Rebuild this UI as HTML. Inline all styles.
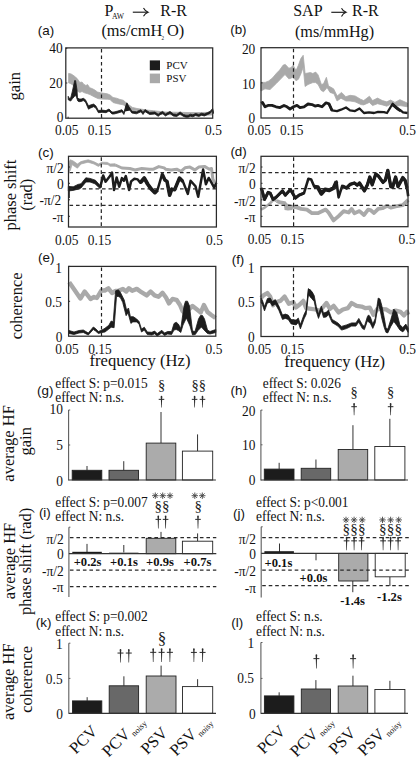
<!DOCTYPE html>
<html><head><meta charset="utf-8"><style>
html,body{margin:0;padding:0;background:#fff;overflow:hidden;width:417px;height:760px;}
svg{display:block;}
</style></head><body>
<svg width="417" height="760" viewBox="0 0 417 760">
<rect width="417" height="760" fill="#fff"/>
<text x="104.6" y="16.3" font-size="16" font-family='"Liberation Serif", serif' fill="#111">P</text>
<text x="111.9" y="18.8" font-size="7.7" font-family='"Liberation Serif", serif' fill="#111">AW</text>
<line x1="132.8" y1="12.2" x2="147.5" y2="12.2" stroke="#1a1a1a" stroke-width="1.15"/>
<path d="M143.5,8.1 Q144.9,11.0 148.1,12.2 Q144.9,13.399999999999999 143.5,16.299999999999997" fill="none" stroke="#1a1a1a" stroke-width="1.1"/>
<text x="160.3" y="16.3" font-size="16" font-family='"Liberation Serif", serif' fill="#111">R-R</text>
<text x="101.4" y="36.0" font-size="16.4" font-family='"Liberation Serif", serif' fill="#111" transform="translate(0 36.0) scale(1 1.06) translate(0 -36.0)">(ms/cmH</text>
<text x="161.6" y="39.8" font-size="5.2" font-family='"Liberation Serif", serif' fill="#111">2</text>
<text x="167.0" y="36.0" font-size="16.4" font-family='"Liberation Serif", serif' fill="#111" transform="translate(0 36.0) scale(1 1.06) translate(0 -36.0)">O)</text>
<text x="293.2" y="16.3" font-size="16" font-family='"Liberation Serif", serif' fill="#111">SAP</text>
<line x1="331.3" y1="12.3" x2="345.5" y2="12.3" stroke="#1a1a1a" stroke-width="1.15"/>
<path d="M341.5,8.200000000000001 Q342.90000000000003,11.100000000000001 346.1,12.3 Q342.90000000000003,13.5 341.5,16.4" fill="none" stroke="#1a1a1a" stroke-width="1.1"/>
<text x="352.0" y="16.3" font-size="16" font-family='"Liberation Serif", serif' fill="#111">R-R</text>
<text x="294.9" y="36.6" font-size="16.2" font-family='"Liberation Serif", serif' fill="#111" transform="translate(0 36.6) scale(1 1.06) translate(0 -36.6)">(ms/mmHg)</text>
<text x="37.8" y="35.199999999999996" font-size="13.4" text-anchor="start" font-family='"Liberation Sans", sans-serif' font-weight="normal" fill="#111"  >(a)</text>
<text x="230.20000000000002" y="34.199999999999996" font-size="13.4" text-anchor="start" font-family='"Liberation Sans", sans-serif' font-weight="normal" fill="#111"  >(b)</text>
<text x="38.099999999999994" y="156.9" font-size="13.4" text-anchor="start" font-family='"Liberation Sans", sans-serif' font-weight="normal" fill="#111"  >(c)</text>
<text x="230.4" y="156.4" font-size="13.4" text-anchor="start" font-family='"Liberation Sans", sans-serif' font-weight="normal" fill="#111"  >(d)</text>
<text x="38.099999999999994" y="262.2" font-size="13.4" text-anchor="start" font-family='"Liberation Sans", sans-serif' font-weight="normal" fill="#111"  >(e)</text>
<text x="231.70000000000002" y="263.9" font-size="13.4" text-anchor="start" font-family='"Liberation Sans", sans-serif' font-weight="normal" fill="#111"  >(f)</text>
<text x="37.0" y="395.2" font-size="13.4" text-anchor="start" font-family='"Liberation Sans", sans-serif' font-weight="normal" fill="#111"  >(g)</text>
<text x="230.60000000000002" y="395.2" font-size="13.4" text-anchor="start" font-family='"Liberation Sans", sans-serif' font-weight="normal" fill="#111"  >(h)</text>
<text x="38.9" y="517.1999999999999" font-size="13.4" text-anchor="start" font-family='"Liberation Sans", sans-serif' font-weight="normal" fill="#111"  >(i)</text>
<text x="233.0" y="517.9" font-size="13.4" text-anchor="start" font-family='"Liberation Sans", sans-serif' font-weight="normal" fill="#111"  >(j)</text>
<text x="35.8" y="627.1999999999999" font-size="13.4" text-anchor="start" font-family='"Liberation Sans", sans-serif' font-weight="normal" fill="#111"  >(k)</text>
<text x="231.3" y="627.1999999999999" font-size="13.4" text-anchor="start" font-family='"Liberation Sans", sans-serif' font-weight="normal" fill="#111"  >(l)</text>
<text x="19.7" y="86.2" font-size="16.5" text-anchor="middle" font-family='"Liberation Serif", serif' fill="#111" transform="rotate(-90 19.7 86.2)">gain</text>
<text x="16.0" y="195.1" font-size="16.5" text-anchor="middle" font-family='"Liberation Serif", serif' fill="#111" transform="rotate(-90 16.0 195.1)">phase shift</text>
<text x="32.3" y="194.7" font-size="16.5" text-anchor="middle" font-family='"Liberation Serif", serif' fill="#111" transform="rotate(-90 32.3 194.7)">(rad)</text>
<text x="22.5" y="305.9" font-size="16.5" text-anchor="middle" font-family='"Liberation Serif", serif' fill="#111" transform="rotate(-90 22.5 305.9)">coherence</text>
<text x="14.5" y="443.4" font-size="16.5" text-anchor="middle" font-family='"Liberation Serif", serif' fill="#111" transform="rotate(-90 14.5 443.4)">average HF</text>
<text x="31.2" y="441.3" font-size="16.5" text-anchor="middle" font-family='"Liberation Serif", serif' fill="#111" transform="rotate(-90 31.2 441.3)">gain</text>
<text x="15.0" y="561.0" font-size="16.5" text-anchor="middle" font-family='"Liberation Serif", serif' fill="#111" transform="rotate(-90 15.0 561.0)">average HF</text>
<text x="30.8" y="561.4" font-size="16.5" text-anchor="middle" font-family='"Liberation Serif", serif' fill="#111" transform="rotate(-90 30.8 561.4)">phase shift (rad)</text>
<text x="13.8" y="681.7" font-size="16.5" text-anchor="middle" font-family='"Liberation Serif", serif' fill="#111" transform="rotate(-90 13.8 681.7)">average HF</text>
<text x="32.2" y="679.4" font-size="16.5" text-anchor="middle" font-family='"Liberation Serif", serif' fill="#111" transform="rotate(-90 32.2 679.4)">coherence</text>
<polygon points="68.6,73.4 71.2,74.0 74.2,76.0 77.2,78.6 79.8,82.5 82.0,82.0 83.7,84.2 85.9,85.5 87.6,84.6 89.7,87.7 91.9,88.5 94.5,89.8 97.5,92.0 100.5,92.8 104.0,93.3 107.2,93.8 110.0,94.9 113.0,97.5 116.6,98.2 120.0,99.5 123.2,100.2 127.0,103.5 132.4,107.4 137.0,108.5 143.0,109.4 148.0,110.2 153.5,110.7 160.0,111.5 165.0,112.0 172.0,112.2 180.0,112.3 190.0,112.6 200.0,112.5 212.0,112.3 212.0,115.0 200.0,115.2 180.0,115.0 165.0,114.5 160.0,114.0 153.5,113.4 148.0,112.4 143.0,111.4 137.0,110.8 132.4,110.0 127.0,107.5 123.2,104.8 120.0,104.2 116.6,103.5 113.0,102.5 110.0,99.5 107.2,99.2 102.0,99.1 98.0,98.6 95.0,97.2 92.5,95.9 90.0,94.6 87.6,93.7 84.5,92.8 82.0,91.5 79.8,92.4 77.2,91.1 73.0,85.0 70.0,83.3 68.6,82.9" fill="#a9a9a9" stroke="#a9a9a9" stroke-width="0.8" stroke-linejoin="round"/>
<polygon points="68.2,96.3 69.5,98.5 70.7,98.0 72.2,92.0 74.7,80.5 75.6,80.7 77.0,90.0 77.5,97.6 79.0,98.9 81.1,99.1 83.3,98.3 85.4,99.7 88.5,105.8 90.6,104.9 93.6,104.1 95.8,105.8 98.4,110.5 102.0,110.1 106.0,110.6 109.0,109.0 112.0,112.0 114.0,112.0 117.9,111.0 121.9,109.7 123.9,112.4 126.5,103.6 129.8,107.9 131.8,111.0 136.4,111.7 141.0,109.7 143.0,112.4 145.0,109.5 149.6,112.4 154.9,112.0 158.2,114.2 160.0,112.8 162.7,111.4 165.4,113.9 168.0,112.5 170.0,111.4 173.4,114.0 176.8,114.4 180.1,111.9 183.5,114.5 186.0,115.2 188.2,115.2 190.5,114.2 192.9,114.8 195.6,113.5 198.9,114.4 201.6,113.2 204.3,113.9 207.7,112.5 210.3,111.2 212.6,108.5 213.4,111.5 213.4,113.5 212.6,110.6 210.3,113.2 207.7,114.5 204.3,116.0 201.6,115.2 198.9,116.5 195.6,115.6 192.9,116.8 190.5,116.3 188.2,117.2 186.0,117.2 183.5,116.5 180.1,114.0 176.8,116.5 173.4,116.1 170.0,113.5 168.0,114.5 165.4,116.0 162.7,113.5 160.0,114.8 158.2,116.3 154.9,114.0 149.6,114.5 145.0,111.5 143.0,114.5 141.0,111.8 136.4,113.8 131.8,113.0 129.8,110.0 126.5,105.7 123.9,114.5 121.9,111.8 117.9,113.0 114.0,114.0 112.0,114.0 109.0,111.0 106.0,112.7 102.0,112.3 98.4,112.7 95.8,108.0 93.6,106.7 90.6,108.0 88.5,109.2 85.4,101.9 83.3,100.6 81.1,101.5 79.0,101.7 77.8,101.0 76.5,97.4 75.5,95.1 74.5,96.4 72.5,98.6 70.7,101.0 69.5,100.6 68.2,99.7" fill="#1c1c1c" stroke="#1c1c1c" stroke-width="0.8" stroke-linejoin="round"/>
<polygon points="124.8,111.5 126.5,102.5 127.6,103 130.3,110.5" fill="#1c1c1c"/>
<rect x="65.8" y="47.9" width="146.89999999999998" height="70.30000000000001" fill="none" stroke="#2a2a2a" stroke-width="1.25"/>
<line x1="65.8" y1="48.3" x2="67.3" y2="48.3" stroke="#2a2a2a" stroke-width="1.0"/>
<line x1="65.8" y1="83.0" x2="67.3" y2="83.0" stroke="#2a2a2a" stroke-width="1.0"/>
<line x1="68.1" y1="118.2" x2="68.1" y2="116.7" stroke="#2a2a2a" stroke-width="1.0"/>
<line x1="101.7" y1="118.2" x2="101.7" y2="116.7" stroke="#2a2a2a" stroke-width="1.0"/>
<text x="62.7" y="53.0" font-size="13.4" text-anchor="end" font-family='"Liberation Serif", serif' font-weight="normal" fill="#111" transform="translate(0 53.0) scale(1 1.03) translate(0 -53.0)" >40</text>
<text x="62.7" y="88.0" font-size="13.4" text-anchor="end" font-family='"Liberation Serif", serif' font-weight="normal" fill="#111" transform="translate(0 88.0) scale(1 1.03) translate(0 -88.0)" >20</text>
<text x="63.4" y="122.4" font-size="13.4" text-anchor="end" font-family='"Liberation Serif", serif' font-weight="normal" fill="#111" transform="translate(0 122.4) scale(1 1.03) translate(0 -122.4)" >0</text>
<text x="66.7" y="135.2" font-size="13.4" text-anchor="middle" font-family='"Liberation Serif", serif' font-weight="normal" fill="#111" transform="translate(0 135.2) scale(1 1.03) translate(0 -135.2)" >0.05</text>
<text x="99.5" y="135.2" font-size="13.4" text-anchor="middle" font-family='"Liberation Serif", serif' font-weight="normal" fill="#111" transform="translate(0 135.2) scale(1 1.03) translate(0 -135.2)" >0.15</text>
<text x="213.5" y="135.2" font-size="13.4" text-anchor="middle" font-family='"Liberation Serif", serif' font-weight="normal" fill="#111" transform="translate(0 135.2) scale(1 1.03) translate(0 -135.2)" >0.5</text>
<rect x="149.8" y="60.4" width="10.2" height="9.9" fill="#1c1c1c"/>
<rect x="149.8" y="73.6" width="10.2" height="9.6" fill="#a9a9a9"/>
<text x="166.3" y="68.8" font-size="11" text-anchor="start" font-family='"Liberation Serif", serif' font-weight="normal" fill="#111" transform="translate(0 68.8) scale(1 1.03) translate(0 -68.8)" >PCV</text>
<text x="166.3" y="82.0" font-size="11" text-anchor="start" font-family='"Liberation Serif", serif' font-weight="normal" fill="#111" transform="translate(0 82.0) scale(1 1.03) translate(0 -82.0)" >PSV</text>
<polygon points="261.0,82.4 265.2,82.4 268.8,80.9 272.4,78.1 276.7,73.0 279.6,70.1 283.2,65.1 285.3,64.4 288.8,68.2 290.8,67.7 293.2,65.3 296.0,70.6 298.4,65.3 300.8,58.6 303.2,55.3 305.1,73.5 308.0,73.0 310.4,72.5 312.8,73.5 315.7,72.1 318.1,74.9 321.4,84.5 323.5,83.8 326.4,77.3 328.5,85.9 333.6,88.8 337.2,96.0 341.5,92.4 345.8,96.7 350.1,95.3 355.2,96.0 360.5,99.2 363.7,100.6 369.4,96.2 372.5,100.6 377.5,98.1 382.4,100.6 386.8,101.8 390.5,100.0 394.9,102.4 399.9,99.7 407.4,103.1 407.4,106.8 400.0,105.6 394.9,106.2 390.5,104.3 386.8,106.2 382.4,104.9 377.5,103.7 372.5,105.6 369.4,102.4 363.7,104.9 361.0,104.6 355.0,101.8 350.0,101.0 346.0,101.0 341.0,98.2 337.0,101.0 334.0,93.8 330.0,92.4 327.0,87.4 325.0,90.3 323.4,91.7 321.0,90.3 318.1,84.5 315.7,82.6 312.8,82.6 308.0,84.5 305.1,86.5 303.2,67.3 300.8,74.0 298.4,79.3 296.0,80.7 293.2,76.9 290.8,78.3 288.8,78.8 285.0,74.5 283.0,76.6 276.7,83.1 270.0,89.6 265.0,88.8 261.0,91.0" fill="#a9a9a9" stroke="#a9a9a9" stroke-width="0.8" stroke-linejoin="round"/>
<polyline points="261.0,103.2 262.5,102.5 265.0,106.8 268.0,105.4 272.0,105.4 276.0,106.8 280.0,107.6 284.0,105.4 287.0,106.8 290.0,109.0 293.5,106.8 297.0,105.4 300.0,107.6 304.0,106.8 308.0,104.0 312.0,104.6 315.0,106.1 318.0,105.4 322.0,106.8 326.0,102.8 329.0,103.9 332.0,110.4" fill="none" stroke="#1c1c1c" stroke-width="2.8" stroke-linejoin="round" stroke-linecap="butt" />
<polyline points="329.0,103.9 332.0,110.4 337.0,111.1 341.0,109.7 346.0,107.5 350.0,110.4 355.0,111.1 359.5,108.5 364.0,113.0 369.0,112.4 374.0,113.0 378.0,111.8 384.0,112.2 387.0,113.0 392.5,104.0 396.0,107.4 400.0,109.9 403.0,112.4 407.5,113.0" fill="none" stroke="#1c1c1c" stroke-width="2.3" stroke-linejoin="round" stroke-linecap="butt" />
<polygon points="391.6,106 392.4,102.6 393.6,103.2 398.5,107.6 401,110.1 400.2,112.2 397,110.2 393.5,107.3" fill="#1c1c1c"/>
<line x1="101.5" y1="48.9" x2="101.5" y2="118.2" stroke="#222" stroke-width="1.2" stroke-dasharray="3.6 2.9"/>
<rect x="261" y="47.7" width="147" height="70.3" fill="none" stroke="#2a2a2a" stroke-width="1.25"/>
<line x1="261" y1="47.7" x2="262.5" y2="47.7" stroke="#2a2a2a" stroke-width="1.0"/>
<line x1="261" y1="82.85" x2="262.5" y2="82.85" stroke="#2a2a2a" stroke-width="1.0"/>
<text x="255.3" y="54.2" font-size="13.4" text-anchor="end" font-family='"Liberation Serif", serif' font-weight="normal" fill="#111" transform="translate(0 54.2) scale(1 1.03) translate(0 -54.2)" >20</text>
<text x="255.3" y="89.0" font-size="13.4" text-anchor="end" font-family='"Liberation Serif", serif' font-weight="normal" fill="#111" transform="translate(0 89.0) scale(1 1.03) translate(0 -89.0)" >10</text>
<text x="255.3" y="122.6" font-size="13.4" text-anchor="end" font-family='"Liberation Serif", serif' font-weight="normal" fill="#111" transform="translate(0 122.6) scale(1 1.03) translate(0 -122.6)" >0</text>
<text x="259.2" y="135.2" font-size="13.4" text-anchor="middle" font-family='"Liberation Serif", serif' font-weight="normal" fill="#111" transform="translate(0 135.2) scale(1 1.03) translate(0 -135.2)" >0.05</text>
<text x="291.8" y="135.2" font-size="13.4" text-anchor="middle" font-family='"Liberation Serif", serif' font-weight="normal" fill="#111" transform="translate(0 135.2) scale(1 1.03) translate(0 -135.2)" >0.15</text>
<text x="407.5" y="135.2" font-size="13.4" text-anchor="middle" font-family='"Liberation Serif", serif' font-weight="normal" fill="#111" transform="translate(0 135.2) scale(1 1.03) translate(0 -135.2)" >0.5</text>
<polygon points="68.8,163.0 70.3,159.8 73.2,161.0 77.4,164.0 81.0,161.6 85.0,160.5 88.2,159.8 93.6,161.6 98.4,164.0 102.0,162.2 107.4,162.4 110.0,164.0 115.3,163.8 115.3,166.2 110.0,166.2 108.0,164.6 102.0,164.0 98.4,166.4 94.0,164.0 88.0,162.2 81.0,164.0 77.4,168.2 72.0,164.6 70.3,170.5 68.8,172.0" fill="#a9a9a9" stroke="#a9a9a9" stroke-width="0.8" stroke-linejoin="round"/>
<polyline points="115.3,165.0 121.9,168.0 129.8,168.5 135.1,170.0 141.7,168.5 149.6,169.2 153.5,169.2 158.8,166.6 164.1,167.9 165.6,169.2 171.1,169.9 176.7,169.2 180.9,171.3 185.0,167.8 189.9,167.1 194.8,169.9 198.9,167.1 204.5,166.4 209.4,169.2 211.5,168.5 212.9,179.3 214.9,182.8" fill="none" stroke="#a9a9a9" stroke-width="3.0" stroke-linejoin="round" stroke-linecap="butt" />
<polygon points="68.3,186.4 73.2,186.8 78.0,184.4 81.0,183.8 85.8,177.8 90.0,178.4 95.4,180.2 100.2,185.6 101.5,184.0 101.5,187.0 100.0,188.6 95.0,183.8 90.0,182.0 86.0,182.0 81.0,188.0 78.0,189.2 73.0,190.4 68.3,191.0" fill="#1c1c1c" stroke="#1c1c1c" stroke-width="0.8" stroke-linejoin="round"/>
<line x1="69.0" y1="186.5" x2="69.0" y2="198.0" stroke="#1c1c1c" stroke-width="1.6"/>
<polyline points="100.2,187.1 103.2,175.4 105.6,181.7 110.0,176.0 112.0,172.5 114.0,190.0 116.6,177.4 119.2,186.7 121.9,178.1 123.9,180.7 125.8,176.1 129.1,190.0 131.1,181.4 134.4,178.7 137.7,179.4 140.3,182.7 144.3,178.1 147.6,184.0 150.9,188.6 154.9,192.6 157.5,190.0 162.1,174.1 164.9,180.0 167.0,181.4 169.7,195.3 171.8,189.1 174.6,189.8 179.5,178.0 182.9,181.4 187.8,193.9 190.6,180.7 195.5,186.3 198.2,196.7 203.1,169.6 205.9,184.2 208.7,178.0 210.8,181.4 214.2,187.7 216.3,182.8" fill="none" stroke="#1c1c1c" stroke-width="2.5" stroke-linejoin="round" stroke-linecap="butt" />
<polyline points="140.3,182.7 144.3,178.1 147.6,184.0 150.9,188.6 154.9,192.6 157.5,190.0" fill="none" stroke="#1c1c1c" stroke-width="3.8" stroke-linejoin="round" stroke-linecap="butt" />
<polyline points="162.1,174.1 164.9,180.0 167.0,181.4 169.7,195.3 171.8,189.1 174.6,189.8 179.5,178.0 182.9,181.4" fill="none" stroke="#1c1c1c" stroke-width="3.5" stroke-linejoin="round" stroke-linecap="butt" />
<line x1="293.5" y1="48.7" x2="293.5" y2="118" stroke="#222" stroke-width="1.2" stroke-dasharray="3.6 2.9"/>
<line x1="69.5" y1="172.6" x2="216.4" y2="172.6" stroke="#2a2a2a" stroke-width="1.25" stroke-dasharray="3.6 2.9"/>
<line x1="69.5" y1="188.9" x2="216.4" y2="188.9" stroke="#2a2a2a" stroke-width="1.25" stroke-dasharray="3.6 2.9"/>
<line x1="69.5" y1="205.3" x2="216.4" y2="205.3" stroke="#2a2a2a" stroke-width="1.25" stroke-dasharray="3.6 2.9"/>
<line x1="101.3" y1="157.3" x2="101.3" y2="227.0" stroke="#222" stroke-width="1.2" stroke-dasharray="3.6 2.9"/>
<rect x="68.5" y="156.3" width="147.9" height="70.69999999999999" fill="none" stroke="#2a2a2a" stroke-width="1.25"/>
<line x1="68.5" y1="167.0" x2="70.0" y2="167.0" stroke="#2a2a2a" stroke-width="1.0"/>
<line x1="68.5" y1="183.3" x2="70.0" y2="183.3" stroke="#2a2a2a" stroke-width="1.0"/>
<line x1="68.5" y1="199.8" x2="70.0" y2="199.8" stroke="#2a2a2a" stroke-width="1.0"/>
<line x1="68.5" y1="216.3" x2="70.0" y2="216.3" stroke="#2a2a2a" stroke-width="1.0"/>
<text x="63.6" y="173.3" font-size="13.4" text-anchor="end" font-family='"Liberation Serif", serif' font-weight="normal" fill="#111" transform="translate(0 173.3) scale(1 1.03) translate(0 -173.3)" >π/2</text>
<text x="63.6" y="189.3" font-size="13.4" text-anchor="end" font-family='"Liberation Serif", serif' font-weight="normal" fill="#111" transform="translate(0 189.3) scale(1 1.03) translate(0 -189.3)" >0</text>
<text x="61.2" y="204.8" font-size="13.4" text-anchor="end" font-family='"Liberation Serif", serif' font-weight="normal" fill="#111" transform="translate(0 204.8) scale(1 1.03) translate(0 -204.8)" >-π/2</text>
<text x="63.6" y="222.3" font-size="13.4" text-anchor="end" font-family='"Liberation Serif", serif' font-weight="normal" fill="#111" transform="translate(0 222.3) scale(1 1.03) translate(0 -222.3)" >-π</text>
<text x="66.7" y="245.0" font-size="13.4" text-anchor="middle" font-family='"Liberation Serif", serif' font-weight="normal" fill="#111" transform="translate(0 245.0) scale(1 1.03) translate(0 -245.0)" >0.05</text>
<text x="99.5" y="245.0" font-size="13.4" text-anchor="middle" font-family='"Liberation Serif", serif' font-weight="normal" fill="#111" transform="translate(0 245.0) scale(1 1.03) translate(0 -245.0)" >0.15</text>
<text x="214.5" y="245.0" font-size="13.4" text-anchor="middle" font-family='"Liberation Serif", serif' font-weight="normal" fill="#111" transform="translate(0 245.0) scale(1 1.03) translate(0 -245.0)" >0.5</text>
<polyline points="261.0,209.6 263.8,208.2 269.5,203.8 273.8,199.5 276.7,201.0" fill="none" stroke="#a9a9a9" stroke-width="2.6" stroke-linejoin="round" stroke-linecap="butt" />
<polyline points="276.7,201.0 280.3,202.4 284.6,203.1 286.5,207.0 288.2,208.2 292.5,206.7 296.8,207.4 301.2,208.9 306.9,209.6 312.0,213.2 317.8,213.2 325.7,209.6 328.5,212.5 333.6,220.4 338.6,216.1 343.7,211.1 348.7,212.5 351.6,208.9 354.4,213.2 359.5,211.1 364.0,215.0 368.1,209.6 370.4,210.0 374.0,213.0 378.2,208.8 382.4,208.2 387.2,205.8 390.8,207.6 395.6,206.4 402.8,205.2 405.2,202.8 408.2,199.8" fill="none" stroke="#a9a9a9" stroke-width="3.8" stroke-linejoin="round" stroke-linecap="butt" />
<polygon points="284,202 287,203.5 292,205 292.5,210 288,210.5 284.5,210" fill="#a9a9a9"/>
<polyline points="261.0,188.0 262.0,190.2 264.5,199.5 268.1,192.3 270.2,193.1 273.1,199.5 276.7,196.7 282.5,190.9 285.3,195.2 290.4,189.5 292.5,193.1 295.4,198.1 299.0,195.2 304.0,193.1 308.4,178.7 311.2,179.4 314.2,186.6 317.8,187.3 321.4,193.8 325.0,189.5 329.3,190.2 333.6,188.0 336.5,181.5 338.6,197.4 342.2,185.9 346.5,188.0 350.1,184.4 354.4,183.0 357.3,185.1 359.5,183.0 364.4,190.8 367.4,184.8 369.8,177.0 372.2,184.8 375.8,174.0 378.2,175.8 383.0,182.4 385.4,180.0 387.8,170.4 390.8,186.6 392.6,187.2 395.6,177.0 398.0,186.6 402.8,177.6 405.2,180.6 407.0,187.8 408.2,196.2" fill="none" stroke="#1c1c1c" stroke-width="2.6" stroke-linejoin="round" stroke-linecap="butt" />
<polyline points="261.0,188.0 262.0,190.2 264.5,199.5 268.1,192.3 270.2,193.1 273.1,199.5 276.7,196.7 282.5,190.9 285.3,195.2 290.4,189.5 292.5,193.1 295.4,198.1 299.0,195.2 304.0,193.1" fill="none" stroke="#1c1c1c" stroke-width="3.0" stroke-linejoin="round" stroke-linecap="butt" />
<polyline points="314.2,186.6 317.8,187.3 321.4,193.8 325.0,189.5 329.3,190.2 333.6,188.0 336.5,181.5" fill="none" stroke="#1c1c1c" stroke-width="4.0" stroke-linejoin="round" stroke-linecap="butt" />
<polyline points="342.2,185.9 346.5,188.0 350.1,184.4 354.4,183.0 357.3,185.1 359.5,183.0 364.4,190.8 367.4,184.8 369.8,177.0 372.2,184.8 375.8,174.0 378.2,175.8 383.0,182.4 385.4,180.0 387.8,170.4 390.8,186.6 392.6,187.2 395.6,177.0 398.0,186.6 402.8,177.6 405.2,180.6 407.0,187.8" fill="none" stroke="#1c1c1c" stroke-width="3.3" stroke-linejoin="round" stroke-linecap="butt" />
<line x1="262" y1="172.5" x2="408" y2="172.5" stroke="#2a2a2a" stroke-width="1.25" stroke-dasharray="3.6 2.9"/>
<line x1="262" y1="188.7" x2="408" y2="188.7" stroke="#2a2a2a" stroke-width="1.25" stroke-dasharray="3.6 2.9"/>
<line x1="262" y1="205.3" x2="408" y2="205.3" stroke="#2a2a2a" stroke-width="1.25" stroke-dasharray="3.6 2.9"/>
<line x1="293.6" y1="157.3" x2="293.6" y2="226.7" stroke="#222" stroke-width="1.2" stroke-dasharray="3.6 2.9"/>
<rect x="261" y="156.3" width="147" height="70.39999999999998" fill="none" stroke="#2a2a2a" stroke-width="1.25"/>
<line x1="261" y1="167.0" x2="262.5" y2="167.0" stroke="#2a2a2a" stroke-width="1.0"/>
<line x1="261" y1="183.3" x2="262.5" y2="183.3" stroke="#2a2a2a" stroke-width="1.0"/>
<line x1="261" y1="199.8" x2="262.5" y2="199.8" stroke="#2a2a2a" stroke-width="1.0"/>
<line x1="261" y1="216.3" x2="262.5" y2="216.3" stroke="#2a2a2a" stroke-width="1.0"/>
<text x="255.6" y="173.3" font-size="13.4" text-anchor="end" font-family='"Liberation Serif", serif' font-weight="normal" fill="#111" transform="translate(0 173.3) scale(1 1.03) translate(0 -173.3)" >π/2</text>
<text x="255.6" y="189.3" font-size="13.4" text-anchor="end" font-family='"Liberation Serif", serif' font-weight="normal" fill="#111" transform="translate(0 189.3) scale(1 1.03) translate(0 -189.3)" >0</text>
<text x="255.6" y="205.7" font-size="13.4" text-anchor="end" font-family='"Liberation Serif", serif' font-weight="normal" fill="#111" transform="translate(0 205.7) scale(1 1.03) translate(0 -205.7)" >-π/2</text>
<text x="255.6" y="222.3" font-size="13.4" text-anchor="end" font-family='"Liberation Serif", serif' font-weight="normal" fill="#111" transform="translate(0 222.3) scale(1 1.03) translate(0 -222.3)" >-π</text>
<text x="259.6" y="244.0" font-size="13.4" text-anchor="middle" font-family='"Liberation Serif", serif' font-weight="normal" fill="#111" transform="translate(0 244.0) scale(1 1.03) translate(0 -244.0)" >0.05</text>
<text x="292.5" y="244.0" font-size="13.4" text-anchor="middle" font-family='"Liberation Serif", serif' font-weight="normal" fill="#111" transform="translate(0 244.0) scale(1 1.03) translate(0 -244.0)" >0.15</text>
<text x="407" y="244.0" font-size="13.4" text-anchor="middle" font-family='"Liberation Serif", serif' font-weight="normal" fill="#111" transform="translate(0 244.0) scale(1 1.03) translate(0 -244.0)" >0.5</text>
<polyline points="69.2,282.3 73.2,288.0 80.4,298.5 84.7,291.5 90.5,299.0 94.0,297.0 96.9,298.0 101.3,290.5 104.8,290.5 108.4,288.3 112.0,293.0 115.6,291.0 119.0,290.6 122.9,288.9 126.2,291.5 128.9,288.2 132.2,290.8 136.8,288.9 141.4,292.2 146.7,295.4 150.6,291.5 154.6,295.4 158.5,296.8 162.5,292.8 166.0,297.5 169.0,303.4 172.5,299.0 176.5,299.8 180.0,305.0 182.5,311.0 185.0,313.5 188.1,310.0 192.5,306.0 197.0,309.5 200.7,312.5 203.9,305.0 207.5,312.0 211.0,314.8 215.5,318.0" fill="none" stroke="#a9a9a9" stroke-width="4.4" stroke-linejoin="round" stroke-linecap="butt" />
<polygon points="69.0,330.5 74.0,332.0 79.0,330.5 83.3,330.0 88.3,333.0 93.3,327.0 95.5,328.5 98.4,331.5 102.0,330.0 105.0,328.2 108.8,325.3 111.2,321.0 113.2,321.9 115.6,290.8 118.4,289.8 120.3,292.2 124.2,299.9 126.6,310.0 128.5,308.0 130.4,316.7 133.3,316.7 136.7,319.0 139.1,321.5 141.5,329.1 144.3,327.2 147.3,332.0 151.9,332.3 154.6,331.0 157.2,333.6 161.8,330.3 164.5,333.0 167.6,331.5 171.6,331.5 174.0,323.5 176.2,322.2 178.3,324.0 180.8,328.5 184.0,306.0 185.5,301.2 187.5,301.2 189.5,306.0 192.5,331.0 195.0,331.5 198.5,319.0 200.5,315.5 202.5,315.5 204.5,319.0 207.5,330.0 210.0,331.5 215.8,329.5 215.8,332.5 210.0,334.0 207.5,333.5 205.0,331.0 201.4,327.0 198.0,330.5 195.3,334.5 192.5,335.0 190.0,326.0 186.4,318.0 183.0,325.0 180.8,332.5 178.3,330.5 176.2,329.5 174.0,330.0 171.6,334.5 167.6,334.0 164.5,335.6 161.8,333.0 157.2,336.0 154.6,333.8 151.9,335.0 147.3,334.5 144.3,330.1 141.5,332.0 139.1,324.3 136.7,321.9 132.8,321.9 130.9,323.4 128.0,312.8 126.1,315.7 122.7,302.3 120.3,297.5 118.4,296.5 116.5,296.5 114.1,327.7 111.2,327.2 108.8,329.1 105.0,332.0 102.0,332.5 98.4,333.5 95.5,331.0 93.3,329.5 88.3,335.0 83.3,332.5 79.0,333.0 74.0,334.5 69.0,333.5" fill="#1c1c1c" stroke="#1c1c1c" stroke-width="0.8" stroke-linejoin="round"/>
<line x1="101.5" y1="267.4" x2="101.5" y2="336.2" stroke="#222" stroke-width="1.2" stroke-dasharray="3.6 2.9"/>
<rect x="68.6" y="266.4" width="147.20000000000002" height="69.80000000000001" fill="none" stroke="#2a2a2a" stroke-width="1.25"/>
<line x1="68.6" y1="266.4" x2="70.1" y2="266.4" stroke="#2a2a2a" stroke-width="1.0"/>
<line x1="68.6" y1="301.3" x2="70.1" y2="301.3" stroke="#2a2a2a" stroke-width="1.0"/>
<text x="62.0" y="272.6" font-size="13.4" text-anchor="end" font-family='"Liberation Serif", serif' font-weight="normal" fill="#111" transform="translate(0 272.6) scale(1 1.03) translate(0 -272.6)" >1</text>
<text x="62.0" y="307.4" font-size="13.4" text-anchor="end" font-family='"Liberation Serif", serif' font-weight="normal" fill="#111" transform="translate(0 307.4) scale(1 1.03) translate(0 -307.4)" >0.5</text>
<text x="62.5" y="341.9" font-size="13.4" text-anchor="end" font-family='"Liberation Serif", serif' font-weight="normal" fill="#111" transform="translate(0 341.9) scale(1 1.03) translate(0 -341.9)" >0</text>
<text x="67.0" y="354.1" font-size="13.4" text-anchor="middle" font-family='"Liberation Serif", serif' font-weight="normal" fill="#111" transform="translate(0 354.1) scale(1 1.03) translate(0 -354.1)" >0.05</text>
<text x="100.0" y="354.1" font-size="13.4" text-anchor="middle" font-family='"Liberation Serif", serif' font-weight="normal" fill="#111" transform="translate(0 354.1) scale(1 1.03) translate(0 -354.1)" >0.15</text>
<text x="214.0" y="354.1" font-size="13.4" text-anchor="middle" font-family='"Liberation Serif", serif' font-weight="normal" fill="#111" transform="translate(0 354.1) scale(1 1.03) translate(0 -354.1)" >0.5</text>
<text x="140.0" y="366.5" font-size="16.6" text-anchor="middle" font-family='"Liberation Serif", serif' font-weight="normal" fill="#111" transform="translate(0 366.5) scale(1 1.03) translate(0 -366.5)" >frequency (Hz)</text>
<polyline points="261.0,298.0 263.8,295.1 267.4,293.0 270.2,296.6 273.1,305.2 276.0,302.3 280.3,300.9 284.6,296.6 288.9,303.8 293.3,302.3 296.1,307.4 299.7,304.5 303.3,300.9 306.2,308.1 311.2,308.8 315.6,309.5 319.9,310.9 326.4,303.0 330.0,308.8 333.6,305.9 338.6,312.4 342.9,309.5 348.0,308.1 351.6,303.0 356.6,305.9 361.6,306.6 365.6,308.2 369.8,307.6 373.4,314.8 377.6,308.8 386.0,309.4 390.8,312.4 395.6,310.6 400.4,311.8 404.0,315.4 407.0,311.8 408.2,314.8" fill="none" stroke="#a9a9a9" stroke-width="4.3" stroke-linejoin="round" stroke-linecap="butt" />
<polygon points="261.0,298.1 262.3,300.1 264.5,306.6 267.4,298.6 270.2,298.1 272.4,301.6 275.3,299.6 278.9,306.1 282.5,315.1 285.3,314.1 288.2,315.1 291.1,319.6 296.1,320.1 298.3,318.1 300.4,324.6 304.0,314.6 306.2,310.1 308.4,288.6 312.0,291.6 314.2,295.6 316.3,306.6 318.5,314.1 321.4,306.1 323.5,313.1 326.4,312.1 328.5,310.1 332.1,319.4 337.9,322.9 341.5,326.4 346.5,324.9 351.6,322.9 355.9,322.9 358.8,318.4 362.4,324.9 364.4,326.4 367.4,316.6 368.6,314.9 370.4,317.1 372.8,324.1 375.2,318.6 378.2,298.1 380.0,299.1 381.8,305.6 384.2,317.6 386.0,328.1 387.8,329.1 390.8,319.6 393.8,309.1 396.8,312.6 399.8,324.6 402.8,327.6 405.8,324.1 408.2,328.1 408.2,332.4 405.8,328.4 402.8,331.9 399.8,329.9 396.8,325.4 393.8,321.4 390.8,326.4 387.8,332.9 386.0,332.4 384.2,327.4 381.8,318.4 380.0,309.4 378.2,304.4 375.2,322.9 372.8,328.4 370.4,323.4 368.6,321.9 367.4,320.9 364.4,329.6 362.4,328.6 358.8,322.1 355.9,326.1 351.6,326.1 346.5,328.6 341.5,330.1 337.9,326.1 332.1,322.6 328.5,314.4 326.4,316.9 323.5,317.4 321.4,310.4 318.5,318.4 316.3,311.4 314.2,301.4 312.0,298.9 308.4,294.4 306.2,314.4 304.0,318.9 300.4,328.9 298.3,322.4 296.1,324.9 291.1,323.9 288.2,319.4 285.3,318.4 282.5,319.4 278.9,310.4 275.3,303.9 272.4,305.9 270.2,302.4 267.4,302.9 264.5,310.9 262.3,304.4 261.0,302.4" fill="#1c1c1c" stroke="#1c1c1c" stroke-width="0.8" stroke-linejoin="round"/>
<polygon points="305.5,314 308,289 310.5,289.5 313,296 311,298 308.6,295" fill="#1c1c1c"/>
<line x1="293.5" y1="267.6" x2="293.5" y2="336.5" stroke="#222" stroke-width="1.2" stroke-dasharray="3.6 2.9"/>
<rect x="261" y="266.6" width="147.10000000000002" height="69.89999999999998" fill="none" stroke="#2a2a2a" stroke-width="1.25"/>
<line x1="261" y1="266.6" x2="262.5" y2="266.6" stroke="#2a2a2a" stroke-width="1.0"/>
<line x1="261" y1="301.5" x2="262.5" y2="301.5" stroke="#2a2a2a" stroke-width="1.0"/>
<text x="254.5" y="272.8" font-size="13.4" text-anchor="end" font-family='"Liberation Serif", serif' font-weight="normal" fill="#111" transform="translate(0 272.8) scale(1 1.03) translate(0 -272.8)" >1</text>
<text x="254.8" y="307.1" font-size="13.4" text-anchor="end" font-family='"Liberation Serif", serif' font-weight="normal" fill="#111" transform="translate(0 307.1) scale(1 1.03) translate(0 -307.1)" >0.5</text>
<text x="254.8" y="341.9" font-size="13.4" text-anchor="end" font-family='"Liberation Serif", serif' font-weight="normal" fill="#111" transform="translate(0 341.9) scale(1 1.03) translate(0 -341.9)" >0</text>
<text x="259.6" y="354.1" font-size="13.4" text-anchor="middle" font-family='"Liberation Serif", serif' font-weight="normal" fill="#111" transform="translate(0 354.1) scale(1 1.03) translate(0 -354.1)" >0.05</text>
<text x="292.5" y="354.1" font-size="13.4" text-anchor="middle" font-family='"Liberation Serif", serif' font-weight="normal" fill="#111" transform="translate(0 354.1) scale(1 1.03) translate(0 -354.1)" >0.15</text>
<text x="407.6" y="354.1" font-size="13.4" text-anchor="middle" font-family='"Liberation Serif", serif' font-weight="normal" fill="#111" transform="translate(0 354.1) scale(1 1.03) translate(0 -354.1)" >0.5</text>
<text x="334.7" y="366.7" font-size="16.6" text-anchor="middle" font-family='"Liberation Serif", serif' font-weight="normal" fill="#111" transform="translate(0 366.7) scale(1 1.03) translate(0 -366.7)" >frequency (Hz)</text>
<line x1="68.6" y1="410" x2="68.6" y2="480.5" stroke="#5c5c5c" stroke-width="1.1"/>
<line x1="87.0" y1="466" x2="87.0" y2="470.3" stroke="#333" stroke-width="1.0"/>
<rect x="72.2" y="470.3" width="29.599999999999994" height="9.699999999999989" fill="#1c1c1c" stroke="#222" stroke-width="0.9"/>
<line x1="123.75" y1="461.2" x2="123.75" y2="470.3" stroke="#333" stroke-width="1.0"/>
<rect x="109" y="470.3" width="29.5" height="9.699999999999989" fill="#686868" stroke="#222" stroke-width="0.9"/>
<line x1="161.0" y1="412" x2="161.0" y2="443.1" stroke="#333" stroke-width="1.0"/>
<rect x="146.2" y="443.1" width="29.600000000000023" height="36.89999999999998" fill="#ababab" stroke="#222" stroke-width="0.9"/>
<line x1="197.55" y1="434.4" x2="197.55" y2="451.1" stroke="#333" stroke-width="1.0"/>
<rect x="182.4" y="451.1" width="30.299999999999983" height="28.899999999999977" fill="#ffffff" stroke="#222" stroke-width="0.9"/>
<line x1="68.6" y1="480.0" x2="215.9" y2="480.0" stroke="#333" stroke-width="1.2"/>
<line x1="68.6" y1="410" x2="70.2" y2="410" stroke="#5c5c5c" stroke-width="1.0"/>
<line x1="68.6" y1="445" x2="70.2" y2="445" stroke="#5c5c5c" stroke-width="1.0"/>
<text x="63.0" y="414.5" font-size="13.4" text-anchor="end" font-family='"Liberation Serif", serif' font-weight="normal" fill="#111" transform="translate(0 414.5) scale(1 1.03) translate(0 -414.5)" >10</text>
<text x="63.0" y="450.0" font-size="13.4" text-anchor="end" font-family='"Liberation Serif", serif' font-weight="normal" fill="#111" transform="translate(0 450.0) scale(1 1.03) translate(0 -450.0)" >5</text>
<text x="63.0" y="485.8" font-size="13.4" text-anchor="end" font-family='"Liberation Serif", serif' font-weight="normal" fill="#111" transform="translate(0 485.8) scale(1 1.03) translate(0 -485.8)" >0</text>
<text x="55.2" y="388.0" font-size="13.4" text-anchor="start" font-family='"Liberation Serif", serif' font-weight="normal" fill="#111" transform="translate(0 388.0) scale(1 1.03) translate(0 -388.0)" >effect S: p=0.015</text>
<text x="55.2" y="402.4" font-size="13.4" text-anchor="start" font-family='"Liberation Serif", serif' font-weight="normal" fill="#111" transform="translate(0 402.4) scale(1 1.03) translate(0 -402.4)" >effect N: n.s.</text>
<text x="161.6" y="390.0" font-size="14.5" text-anchor="middle" font-family='"Liberation Serif", serif' fill="#1a1a1a">§</text>
<ellipse cx="161.5" cy="396.90" rx="0.85" ry="1.05" fill="#2a2a2a"/>
<polygon points="160.80,397.20 162.20,397.20 161.78,407.40 161.22,407.40" fill="#2a2a2a"/>
<line x1="159.10" y1="399.35" x2="163.90" y2="399.35" stroke="#2a2a2a" stroke-width="1.0" stroke-linecap="round"/>
<text x="198.7" y="390.0" font-size="14.5" text-anchor="middle" font-family='"Liberation Serif", serif' fill="#1a1a1a">§§</text>
<ellipse cx="194.6" cy="396.90" rx="0.85" ry="1.05" fill="#2a2a2a"/>
<polygon points="193.90,397.20 195.30,397.20 194.88,407.40 194.32,407.40" fill="#2a2a2a"/>
<line x1="192.20" y1="399.35" x2="197.00" y2="399.35" stroke="#2a2a2a" stroke-width="1.0" stroke-linecap="round"/>
<ellipse cx="202.5" cy="396.90" rx="0.85" ry="1.05" fill="#2a2a2a"/>
<polygon points="201.80,397.20 203.20,397.20 202.78,407.40 202.22,407.40" fill="#2a2a2a"/>
<line x1="200.10" y1="399.35" x2="204.90" y2="399.35" stroke="#2a2a2a" stroke-width="1.0" stroke-linecap="round"/>
<line x1="260.9" y1="410.1" x2="260.9" y2="480.5" stroke="#5c5c5c" stroke-width="1.1"/>
<line x1="279.15" y1="462.8" x2="279.15" y2="469.1" stroke="#333" stroke-width="1.0"/>
<rect x="264.3" y="469.1" width="29.69999999999999" height="10.899999999999977" fill="#1c1c1c" stroke="#222" stroke-width="0.9"/>
<line x1="315.95" y1="459.5" x2="315.95" y2="468.3" stroke="#333" stroke-width="1.0"/>
<rect x="301.2" y="468.3" width="29.5" height="11.699999999999989" fill="#686868" stroke="#222" stroke-width="0.9"/>
<line x1="352.95" y1="425.2" x2="352.95" y2="449.5" stroke="#333" stroke-width="1.0"/>
<rect x="338.2" y="449.5" width="29.5" height="30.5" fill="#ababab" stroke="#222" stroke-width="0.9"/>
<line x1="389.85" y1="418.8" x2="389.85" y2="446.5" stroke="#333" stroke-width="1.0"/>
<rect x="374.8" y="446.5" width="30.099999999999966" height="33.5" fill="#ffffff" stroke="#222" stroke-width="0.9"/>
<line x1="260.9" y1="480.0" x2="408" y2="480.0" stroke="#333" stroke-width="1.2"/>
<line x1="260.9" y1="410.1" x2="262.5" y2="410.1" stroke="#5c5c5c" stroke-width="1.0"/>
<line x1="260.9" y1="444.8" x2="262.5" y2="444.8" stroke="#5c5c5c" stroke-width="1.0"/>
<text x="255.5" y="415.8" font-size="13.4" text-anchor="end" font-family='"Liberation Serif", serif' font-weight="normal" fill="#111" transform="translate(0 415.8) scale(1 1.03) translate(0 -415.8)" >20</text>
<text x="255.5" y="450.0" font-size="13.4" text-anchor="end" font-family='"Liberation Serif", serif' font-weight="normal" fill="#111" transform="translate(0 450.0) scale(1 1.03) translate(0 -450.0)" >10</text>
<text x="255.5" y="485.5" font-size="13.4" text-anchor="end" font-family='"Liberation Serif", serif' font-weight="normal" fill="#111" transform="translate(0 485.5) scale(1 1.03) translate(0 -485.5)" >0</text>
<text x="262.7" y="388.0" font-size="13.4" text-anchor="start" font-family='"Liberation Serif", serif' font-weight="normal" fill="#111" transform="translate(0 388.0) scale(1 1.03) translate(0 -388.0)" >effect S: 0.026</text>
<text x="262.7" y="402.4" font-size="13.4" text-anchor="start" font-family='"Liberation Serif", serif' font-weight="normal" fill="#111" transform="translate(0 402.4) scale(1 1.03) translate(0 -402.4)" >effect N: n.s.</text>
<text x="354.1" y="396.8" font-size="14.5" text-anchor="middle" font-family='"Liberation Serif", serif' fill="#1a1a1a">§</text>
<ellipse cx="354.1" cy="404.00" rx="0.85" ry="1.05" fill="#2a2a2a"/>
<polygon points="353.40,404.30 354.80,404.30 354.38,415.30 353.82,415.30" fill="#2a2a2a"/>
<line x1="351.70" y1="406.69" x2="356.50" y2="406.69" stroke="#2a2a2a" stroke-width="1.0" stroke-linecap="round"/>
<text x="390.6" y="396.8" font-size="14.5" text-anchor="middle" font-family='"Liberation Serif", serif' fill="#1a1a1a">§</text>
<ellipse cx="390.6" cy="404.00" rx="0.85" ry="1.05" fill="#2a2a2a"/>
<polygon points="389.90,404.30 391.30,404.30 390.88,415.30 390.32,415.30" fill="#2a2a2a"/>
<line x1="388.20" y1="406.69" x2="393.00" y2="406.69" stroke="#2a2a2a" stroke-width="1.0" stroke-linecap="round"/>
<line x1="68.9" y1="527.2" x2="68.9" y2="597.0" stroke="#5c5c5c" stroke-width="1.1"/>
<line x1="68.9" y1="527.2" x2="70.4" y2="527.2" stroke="#5c5c5c" stroke-width="1.0"/>
<line x1="87.0" y1="543.9" x2="87.0" y2="552" stroke="#333" stroke-width="1"/>
<line x1="123.8" y1="545" x2="123.8" y2="552.5" stroke="#333" stroke-width="1"/>
<line x1="161.0" y1="531.9" x2="161.0" y2="538.3" stroke="#333" stroke-width="1"/>
<line x1="197.6" y1="533.4" x2="197.6" y2="541.2" stroke="#333" stroke-width="1"/>
<rect x="72.3" y="551.8" width="29.5" height="1.9" fill="#1c1c1c"/>
<rect x="109" y="552.6" width="29.5" height="1.1" fill="#555"/>
<rect x="146.2" y="538.3" width="29.6" height="15.4" fill="#ababab" stroke="#222" stroke-width="0.9"/>
<rect x="182.4" y="541.2" width="30.3" height="12.5" fill="#fff" stroke="#222" stroke-width="0.9"/>
<line x1="69.9" y1="537.6" x2="216.3" y2="537.6" stroke="#2a2a2a" stroke-width="1.25" stroke-dasharray="3.6 2.9"/>
<line x1="69.9" y1="570.1" x2="216.3" y2="570.1" stroke="#2a2a2a" stroke-width="1.25" stroke-dasharray="3.6 2.9"/>
<line x1="69.9" y1="586.7" x2="216.3" y2="586.7" stroke="#2a2a2a" stroke-width="1.25" stroke-dasharray="3.6 2.9"/>
<line x1="68.9" y1="553.6" x2="216.3" y2="553.6" stroke="#333" stroke-width="1.2"/>
<text x="63.6" y="543.6" font-size="13.4" text-anchor="end" font-family='"Liberation Serif", serif' font-weight="normal" fill="#111" transform="translate(0 543.6) scale(1 1.03) translate(0 -543.6)" >π/2</text>
<text x="63.6" y="559.2" font-size="13.4" text-anchor="end" font-family='"Liberation Serif", serif' font-weight="normal" fill="#111" transform="translate(0 559.2) scale(1 1.03) translate(0 -559.2)" >0</text>
<text x="63.6" y="576.0" font-size="13.4" text-anchor="end" font-family='"Liberation Serif", serif' font-weight="normal" fill="#111" transform="translate(0 576.0) scale(1 1.03) translate(0 -576.0)" >-π/2</text>
<text x="63.6" y="592.3" font-size="13.4" text-anchor="end" font-family='"Liberation Serif", serif' font-weight="normal" fill="#111" transform="translate(0 592.3) scale(1 1.03) translate(0 -592.3)" >-π</text>
<text x="87.6" y="566.4" font-size="12.6" text-anchor="middle" font-family='"Liberation Serif", serif' font-weight="bold" fill="#111" transform="translate(0 566.4) scale(1 1.03) translate(0 -566.4)" >+0.2s</text>
<text x="124.0" y="566.4" font-size="12.6" text-anchor="middle" font-family='"Liberation Serif", serif' font-weight="bold" fill="#111" transform="translate(0 566.4) scale(1 1.03) translate(0 -566.4)" >+0.1s</text>
<text x="160.0" y="566.4" font-size="12.6" text-anchor="middle" font-family='"Liberation Serif", serif' font-weight="bold" fill="#111" transform="translate(0 566.4) scale(1 1.03) translate(0 -566.4)" >+0.9s</text>
<text x="197.5" y="566.4" font-size="12.6" text-anchor="middle" font-family='"Liberation Serif", serif' font-weight="bold" fill="#111" transform="translate(0 566.4) scale(1 1.03) translate(0 -566.4)" >+0.7s</text>
<text x="55.2" y="507.0" font-size="13.4" text-anchor="start" font-family='"Liberation Serif", serif' font-weight="normal" fill="#111" transform="translate(0 507.0) scale(1 1.03) translate(0 -507.0)" >effect S: p=0.007</text>
<text x="55.2" y="521.2" font-size="13.4" text-anchor="start" font-family='"Liberation Serif", serif' font-weight="normal" fill="#111" transform="translate(0 521.2) scale(1 1.03) translate(0 -521.2)" >effect N: n.s.</text>
<path d="M152.50,495.70L158.10,495.70M153.32,493.72L157.28,497.68M155.30,492.90L155.30,498.50M157.28,493.72L153.32,497.68" stroke="#444" stroke-width="0.9" stroke-linecap="round" fill="none"/>
<path d="M159.90,495.70L165.50,495.70M160.72,493.72L164.68,497.68M162.70,492.90L162.70,498.50M164.68,493.72L160.72,497.68" stroke="#444" stroke-width="0.9" stroke-linecap="round" fill="none"/>
<path d="M167.20,495.70L172.80,495.70M168.02,493.72L171.98,497.68M170.00,492.90L170.00,498.50M171.98,493.72L168.02,497.68" stroke="#444" stroke-width="0.9" stroke-linecap="round" fill="none"/>
<text x="162.1" y="510.8" font-size="15" text-anchor="middle" font-family='"Liberation Serif", serif' fill="#1a1a1a">§§</text>
<ellipse cx="158.3" cy="516.50" rx="0.85" ry="1.05" fill="#2a2a2a"/>
<polygon points="157.60,516.80 159.00,516.80 158.58,528.40 158.02,528.40" fill="#2a2a2a"/>
<line x1="155.90" y1="519.37" x2="160.70" y2="519.37" stroke="#2a2a2a" stroke-width="1.0" stroke-linecap="round"/>
<ellipse cx="165.6" cy="516.50" rx="0.85" ry="1.05" fill="#2a2a2a"/>
<polygon points="164.90,516.80 166.30,516.80 165.88,528.40 165.32,528.40" fill="#2a2a2a"/>
<line x1="163.20" y1="519.37" x2="168.00" y2="519.37" stroke="#2a2a2a" stroke-width="1.0" stroke-linecap="round"/>
<path d="M192.00,495.70L197.60,495.70M192.82,493.72L196.78,497.68M194.80,492.90L194.80,498.50M196.78,493.72L192.82,497.68" stroke="#444" stroke-width="0.9" stroke-linecap="round" fill="none"/>
<path d="M199.50,495.70L205.10,495.70M200.32,493.72L204.28,497.68M202.30,492.90L202.30,498.50M204.28,493.72L200.32,497.68" stroke="#444" stroke-width="0.9" stroke-linecap="round" fill="none"/>
<text x="198.2" y="510.8" font-size="15" text-anchor="middle" font-family='"Liberation Serif", serif' fill="#1a1a1a">§</text>
<ellipse cx="198.0" cy="516.50" rx="0.85" ry="1.05" fill="#2a2a2a"/>
<polygon points="197.30,516.80 198.70,516.80 198.28,528.40 197.72,528.40" fill="#2a2a2a"/>
<line x1="195.60" y1="519.37" x2="200.40" y2="519.37" stroke="#2a2a2a" stroke-width="1.0" stroke-linecap="round"/>
<line x1="261.2" y1="526.8" x2="261.2" y2="597.5" stroke="#5c5c5c" stroke-width="1.1"/>
<line x1="261.2" y1="526.8" x2="262.7" y2="526.8" stroke="#5c5c5c" stroke-width="1.0"/>
<line x1="279.5" y1="543.5" x2="279.5" y2="552" stroke="#333" stroke-width="1"/>
<line x1="316" y1="553" x2="316" y2="560.3" stroke="#333" stroke-width="1"/>
<line x1="352.8" y1="581" x2="352.8" y2="592.2" stroke="#333" stroke-width="1"/>
<line x1="389.9" y1="576.8" x2="389.9" y2="586" stroke="#333" stroke-width="1"/>
<rect x="264.4" y="551.2" width="29.5" height="2.2" fill="#1c1c1c"/>
<rect x="338.7" y="553.4" width="29.2" height="27.6" fill="#ababab" stroke="#222" stroke-width="0.9"/>
<rect x="375.2" y="553.4" width="30" height="23.4" fill="#fff" stroke="#222" stroke-width="0.9"/>
<line x1="262.2" y1="537.6" x2="409.4" y2="537.6" stroke="#2a2a2a" stroke-width="1.25" stroke-dasharray="3.6 2.9"/>
<line x1="262.2" y1="570.0" x2="409.4" y2="570.0" stroke="#2a2a2a" stroke-width="1.25" stroke-dasharray="3.6 2.9"/>
<line x1="262.2" y1="585.7" x2="409.4" y2="585.7" stroke="#2a2a2a" stroke-width="1.25" stroke-dasharray="3.6 2.9"/>
<line x1="261.2" y1="553.4" x2="408" y2="553.4" stroke="#333" stroke-width="1.2"/>
<text x="256.0" y="543.6" font-size="13.4" text-anchor="end" font-family='"Liberation Serif", serif' font-weight="normal" fill="#111" transform="translate(0 543.6) scale(1 1.03) translate(0 -543.6)" >π/2</text>
<text x="256.0" y="559.0" font-size="13.4" text-anchor="end" font-family='"Liberation Serif", serif' font-weight="normal" fill="#111" transform="translate(0 559.0) scale(1 1.03) translate(0 -559.0)" >0</text>
<text x="256.0" y="575.6" font-size="13.4" text-anchor="end" font-family='"Liberation Serif", serif' font-weight="normal" fill="#111" transform="translate(0 575.6) scale(1 1.03) translate(0 -575.6)" >-π/2</text>
<text x="256.0" y="592.8" font-size="13.4" text-anchor="end" font-family='"Liberation Serif", serif' font-weight="normal" fill="#111" transform="translate(0 592.8) scale(1 1.03) translate(0 -592.8)" >-π</text>
<text x="278.4" y="567.0" font-size="12.6" text-anchor="middle" font-family='"Liberation Serif", serif' font-weight="bold" fill="#111" transform="translate(0 567.0) scale(1 1.03) translate(0 -567.0)" >+0.1s</text>
<text x="313.5" y="582.5" font-size="12.6" text-anchor="middle" font-family='"Liberation Serif", serif' font-weight="bold" fill="#111" transform="translate(0 582.5) scale(1 1.03) translate(0 -582.5)" >+0.0s</text>
<text x="352.6" y="605.0" font-size="12.6" text-anchor="middle" font-family='"Liberation Serif", serif' font-weight="bold" fill="#111" transform="translate(0 605.0) scale(1 1.03) translate(0 -605.0)" >-1.4s</text>
<text x="389.4" y="600.8" font-size="12.6" text-anchor="middle" font-family='"Liberation Serif", serif' font-weight="bold" fill="#111" transform="translate(0 600.8) scale(1 1.03) translate(0 -600.8)" >-1.2s</text>
<text x="256.0" y="507.0" font-size="13.4" text-anchor="start" font-family='"Liberation Serif", serif' font-weight="normal" fill="#111" transform="translate(0 507.0) scale(1 1.03) translate(0 -507.0)" >effect S: p&lt;0.001</text>
<text x="256.0" y="521.2" font-size="13.4" text-anchor="start" font-family='"Liberation Serif", serif' font-weight="normal" fill="#111" transform="translate(0 521.2) scale(1 1.03) translate(0 -521.2)" >effect N: n.s.</text>
<path d="M343.20,519.90L348.80,519.90M344.02,517.92L347.98,521.88M346.00,517.10L346.00,522.70M347.98,517.92L344.02,521.88" stroke="#444" stroke-width="0.9" stroke-linecap="round" fill="none"/>
<path d="M351.30,519.90L356.90,519.90M352.12,517.92L356.08,521.88M354.10,517.10L354.10,522.70M356.08,517.92L352.12,521.88" stroke="#444" stroke-width="0.9" stroke-linecap="round" fill="none"/>
<path d="M359.40,519.90L365.00,519.90M360.22,517.92L364.18,521.88M362.20,517.10L362.20,522.70M364.18,517.92L360.22,521.88" stroke="#444" stroke-width="0.9" stroke-linecap="round" fill="none"/>
<text x="354.1" y="534.0" font-size="15.3" text-anchor="middle" font-family='"Liberation Serif", serif' fill="#1a1a1a">§§§</text>
<ellipse cx="346.6" cy="537.80" rx="0.85" ry="1.05" fill="#2a2a2a"/>
<polygon points="345.90,538.10 347.30,538.10 346.88,550.30 346.32,550.30" fill="#2a2a2a"/>
<line x1="344.10" y1="540.85" x2="349.10" y2="540.85" stroke="#2a2a2a" stroke-width="1.0" stroke-linecap="round"/>
<ellipse cx="354.1" cy="537.80" rx="0.85" ry="1.05" fill="#2a2a2a"/>
<polygon points="353.40,538.10 354.80,538.10 354.38,550.30 353.82,550.30" fill="#2a2a2a"/>
<line x1="351.60" y1="540.85" x2="356.60" y2="540.85" stroke="#2a2a2a" stroke-width="1.0" stroke-linecap="round"/>
<ellipse cx="361.6" cy="537.80" rx="0.85" ry="1.05" fill="#2a2a2a"/>
<polygon points="360.90,538.10 362.30,538.10 361.88,550.30 361.32,550.30" fill="#2a2a2a"/>
<line x1="359.10" y1="540.85" x2="364.10" y2="540.85" stroke="#2a2a2a" stroke-width="1.0" stroke-linecap="round"/>
<path d="M379.70,519.90L385.30,519.90M380.52,517.92L384.48,521.88M382.50,517.10L382.50,522.70M384.48,517.92L380.52,521.88" stroke="#444" stroke-width="0.9" stroke-linecap="round" fill="none"/>
<path d="M387.80,519.90L393.40,519.90M388.62,517.92L392.58,521.88M390.60,517.10L390.60,522.70M392.58,517.92L388.62,521.88" stroke="#444" stroke-width="0.9" stroke-linecap="round" fill="none"/>
<path d="M395.90,519.90L401.50,519.90M396.72,517.92L400.68,521.88M398.70,517.10L398.70,522.70M400.68,517.92L396.72,521.88" stroke="#444" stroke-width="0.9" stroke-linecap="round" fill="none"/>
<text x="390.6" y="534.0" font-size="15.3" text-anchor="middle" font-family='"Liberation Serif", serif' fill="#1a1a1a">§§§</text>
<ellipse cx="383.1" cy="537.80" rx="0.85" ry="1.05" fill="#2a2a2a"/>
<polygon points="382.40,538.10 383.80,538.10 383.38,550.30 382.82,550.30" fill="#2a2a2a"/>
<line x1="380.60" y1="540.85" x2="385.60" y2="540.85" stroke="#2a2a2a" stroke-width="1.0" stroke-linecap="round"/>
<ellipse cx="390.6" cy="537.80" rx="0.85" ry="1.05" fill="#2a2a2a"/>
<polygon points="389.90,538.10 391.30,538.10 390.88,550.30 390.32,550.30" fill="#2a2a2a"/>
<line x1="388.10" y1="540.85" x2="393.10" y2="540.85" stroke="#2a2a2a" stroke-width="1.0" stroke-linecap="round"/>
<ellipse cx="398.1" cy="537.80" rx="0.85" ry="1.05" fill="#2a2a2a"/>
<polygon points="397.40,538.10 398.80,538.10 398.38,550.30 397.82,550.30" fill="#2a2a2a"/>
<line x1="395.60" y1="540.85" x2="400.60" y2="540.85" stroke="#2a2a2a" stroke-width="1.0" stroke-linecap="round"/>
<line x1="68.8" y1="643.2" x2="68.8" y2="713.8" stroke="#5c5c5c" stroke-width="1.1"/>
<line x1="87.15" y1="697.2" x2="87.15" y2="700.9" stroke="#333" stroke-width="1.0"/>
<rect x="72.5" y="700.9" width="29.299999999999997" height="12.399999999999977" fill="#1c1c1c" stroke="#222" stroke-width="0.9"/>
<line x1="123.9" y1="676.3" x2="123.9" y2="685.8" stroke="#333" stroke-width="1.0"/>
<rect x="109.2" y="685.8" width="29.39999999999999" height="27.5" fill="#686868" stroke="#222" stroke-width="0.9"/>
<line x1="161.1" y1="665.6" x2="161.1" y2="676" stroke="#333" stroke-width="1.0"/>
<rect x="146.2" y="676" width="29.80000000000001" height="37.299999999999955" fill="#ababab" stroke="#222" stroke-width="0.9"/>
<line x1="197.6" y1="679.2" x2="197.6" y2="686.6" stroke="#333" stroke-width="1.0"/>
<rect x="182.5" y="686.6" width="30.19999999999999" height="26.699999999999932" fill="#ffffff" stroke="#222" stroke-width="0.9"/>
<line x1="68.8" y1="713.3" x2="216" y2="713.3" stroke="#333" stroke-width="1.2"/>
<line x1="68.8" y1="643.2" x2="70.4" y2="643.2" stroke="#5c5c5c" stroke-width="1.0"/>
<line x1="68.8" y1="678.4" x2="70.4" y2="678.4" stroke="#5c5c5c" stroke-width="1.0"/>
<text x="62.6" y="649.0" font-size="13.4" text-anchor="end" font-family='"Liberation Serif", serif' font-weight="normal" fill="#111" transform="translate(0 649.0) scale(1 1.03) translate(0 -649.0)" >1</text>
<text x="62.6" y="683.6" font-size="13.4" text-anchor="end" font-family='"Liberation Serif", serif' font-weight="normal" fill="#111" transform="translate(0 683.6) scale(1 1.03) translate(0 -683.6)" >0.5</text>
<text x="63.0" y="719.0" font-size="13.4" text-anchor="end" font-family='"Liberation Serif", serif' font-weight="normal" fill="#111" transform="translate(0 719.0) scale(1 1.03) translate(0 -719.0)" >0</text>
<text x="55.2" y="621.2" font-size="13.4" text-anchor="start" font-family='"Liberation Serif", serif' font-weight="normal" fill="#111" transform="translate(0 621.2) scale(1 1.03) translate(0 -621.2)" >effect S: p=0.002</text>
<text x="55.2" y="635.6" font-size="13.4" text-anchor="start" font-family='"Liberation Serif", serif' font-weight="normal" fill="#111" transform="translate(0 635.6) scale(1 1.03) translate(0 -635.6)" >effect N: n.s.</text>
<ellipse cx="120.5" cy="650.00" rx="0.85" ry="1.05" fill="#2a2a2a"/>
<polygon points="119.80,650.30 121.20,650.30 120.78,662.50 120.22,662.50" fill="#2a2a2a"/>
<line x1="117.90" y1="653.05" x2="123.10" y2="653.05" stroke="#2a2a2a" stroke-width="1.0" stroke-linecap="round"/>
<ellipse cx="128.8" cy="650.00" rx="0.85" ry="1.05" fill="#2a2a2a"/>
<polygon points="128.10,650.30 129.50,650.30 129.08,662.50 128.52,662.50" fill="#2a2a2a"/>
<line x1="126.20" y1="653.05" x2="131.40" y2="653.05" stroke="#2a2a2a" stroke-width="1.0" stroke-linecap="round"/>
<text x="162.0" y="644.2" font-size="17" text-anchor="middle" font-family='"Liberation Serif", serif' fill="#1a1a1a">§</text>
<ellipse cx="153.2" cy="649.20" rx="0.85" ry="1.05" fill="#2a2a2a"/>
<polygon points="152.50,649.50 153.90,649.50 153.48,662.00 152.92,662.00" fill="#2a2a2a"/>
<line x1="150.55" y1="652.34" x2="155.85" y2="652.34" stroke="#2a2a2a" stroke-width="1.0" stroke-linecap="round"/>
<ellipse cx="161.6" cy="649.20" rx="0.85" ry="1.05" fill="#2a2a2a"/>
<polygon points="160.90,649.50 162.30,649.50 161.88,662.00 161.32,662.00" fill="#2a2a2a"/>
<line x1="158.95" y1="652.34" x2="164.25" y2="652.34" stroke="#2a2a2a" stroke-width="1.0" stroke-linecap="round"/>
<ellipse cx="169.9" cy="649.20" rx="0.85" ry="1.05" fill="#2a2a2a"/>
<polygon points="169.20,649.50 170.60,649.50 170.18,662.00 169.62,662.00" fill="#2a2a2a"/>
<line x1="167.25" y1="652.34" x2="172.55" y2="652.34" stroke="#2a2a2a" stroke-width="1.0" stroke-linecap="round"/>
<ellipse cx="193.9" cy="649.30" rx="0.85" ry="1.05" fill="#2a2a2a"/>
<polygon points="193.20,649.60 194.60,649.60 194.18,662.00 193.62,662.00" fill="#2a2a2a"/>
<line x1="191.30" y1="652.41" x2="196.50" y2="652.41" stroke="#2a2a2a" stroke-width="1.0" stroke-linecap="round"/>
<ellipse cx="202.6" cy="649.30" rx="0.85" ry="1.05" fill="#2a2a2a"/>
<polygon points="201.90,649.60 203.30,649.60 202.88,662.00 202.32,662.00" fill="#2a2a2a"/>
<line x1="200.00" y1="652.41" x2="205.20" y2="652.41" stroke="#2a2a2a" stroke-width="1.0" stroke-linecap="round"/>
<line x1="260.9" y1="642.5" x2="260.9" y2="713.8" stroke="#5c5c5c" stroke-width="1.1"/>
<line x1="279.15" y1="692.3" x2="279.15" y2="695.9" stroke="#333" stroke-width="1.0"/>
<rect x="264.4" y="695.9" width="29.5" height="17.399999999999977" fill="#1c1c1c" stroke="#222" stroke-width="0.9"/>
<line x1="315.9" y1="680.1" x2="315.9" y2="689" stroke="#333" stroke-width="1.0"/>
<rect x="301.3" y="689" width="29.19999999999999" height="24.299999999999955" fill="#686868" stroke="#222" stroke-width="0.9"/>
<line x1="352.95" y1="675.7" x2="352.95" y2="686" stroke="#333" stroke-width="1.0"/>
<rect x="338.2" y="686" width="29.5" height="27.299999999999955" fill="#ababab" stroke="#222" stroke-width="0.9"/>
<line x1="389.9" y1="680.8" x2="389.9" y2="689.5" stroke="#333" stroke-width="1.0"/>
<rect x="374.9" y="689.5" width="30.0" height="23.799999999999955" fill="#ffffff" stroke="#222" stroke-width="0.9"/>
<line x1="260.9" y1="713.3" x2="408" y2="713.3" stroke="#333" stroke-width="1.2"/>
<line x1="260.9" y1="642.5" x2="262.5" y2="642.5" stroke="#5c5c5c" stroke-width="1.0"/>
<line x1="260.9" y1="678.4" x2="262.5" y2="678.4" stroke="#5c5c5c" stroke-width="1.0"/>
<text x="254.3" y="647.7" font-size="13.4" text-anchor="end" font-family='"Liberation Serif", serif' font-weight="normal" fill="#111" transform="translate(0 647.7) scale(1 1.03) translate(0 -647.7)" >1</text>
<text x="254.0" y="682.8" font-size="13.4" text-anchor="end" font-family='"Liberation Serif", serif' font-weight="normal" fill="#111" transform="translate(0 682.8) scale(1 1.03) translate(0 -682.8)" >0.5</text>
<text x="255.6" y="718.8" font-size="13.4" text-anchor="end" font-family='"Liberation Serif", serif' font-weight="normal" fill="#111" transform="translate(0 718.8) scale(1 1.03) translate(0 -718.8)" >0</text>
<text x="256.0" y="621.2" font-size="13.4" text-anchor="start" font-family='"Liberation Serif", serif' font-weight="normal" fill="#111" transform="translate(0 621.2) scale(1 1.03) translate(0 -621.2)" >effect S: n.s.</text>
<text x="256.0" y="635.6" font-size="13.4" text-anchor="start" font-family='"Liberation Serif", serif' font-weight="normal" fill="#111" transform="translate(0 635.6) scale(1 1.03) translate(0 -635.6)" >effect N: n.s.</text>
<ellipse cx="316.4" cy="655.40" rx="0.85" ry="1.05" fill="#2a2a2a"/>
<polygon points="315.70,655.70 317.10,655.70 316.68,668.50 316.12,668.50" fill="#2a2a2a"/>
<line x1="313.80" y1="658.63" x2="319.00" y2="658.63" stroke="#2a2a2a" stroke-width="1.0" stroke-linecap="round"/>
<ellipse cx="353.1" cy="655.40" rx="0.85" ry="1.05" fill="#2a2a2a"/>
<polygon points="352.40,655.70 353.80,655.70 353.38,668.50 352.82,668.50" fill="#2a2a2a"/>
<line x1="350.50" y1="658.63" x2="355.70" y2="658.63" stroke="#2a2a2a" stroke-width="1.0" stroke-linecap="round"/>
<text x="75.8" y="754.8" font-size="16.5" font-family='"Liberation Serif", serif' fill="#111" transform="rotate(-45 75.8 754.8)">PCV</text>
<text x="108.4" y="757.8" font-size="16.5" font-family='"Liberation Serif", serif' fill="#111" transform="rotate(-45 108.4 757.8)">PCV<tspan font-size="8.5" dx="1" dy="3.7">noisy</tspan></text>
<text x="147.3" y="755.3" font-size="16.5" font-family='"Liberation Serif", serif' fill="#111" transform="rotate(-45 147.3 755.3)">PSV</text>
<text x="176.2" y="756.7" font-size="16.5" font-family='"Liberation Serif", serif' fill="#111" transform="rotate(-45 176.2 756.7)">PSV<tspan font-size="8.5" dx="1" dy="3.7">noisy</tspan></text>
<text x="263.8" y="754.8" font-size="16.5" font-family='"Liberation Serif", serif' fill="#111" transform="rotate(-45 263.8 754.8)">PCV</text>
<text x="296.4" y="757.8" font-size="16.5" font-family='"Liberation Serif", serif' fill="#111" transform="rotate(-45 296.4 757.8)">PCV<tspan font-size="8.5" dx="1" dy="3.7">noisy</tspan></text>
<text x="335.3" y="755.3" font-size="16.5" font-family='"Liberation Serif", serif' fill="#111" transform="rotate(-45 335.3 755.3)">PSV</text>
<text x="364.2" y="756.7" font-size="16.5" font-family='"Liberation Serif", serif' fill="#111" transform="rotate(-45 364.2 756.7)">PSV<tspan font-size="8.5" dx="1" dy="3.7">noisy</tspan></text>
</svg>
</body></html>
